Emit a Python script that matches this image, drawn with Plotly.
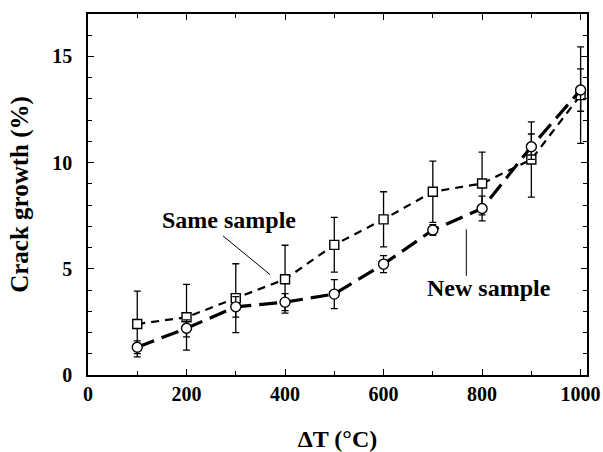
import plotly.graph_objects as go

# temperature difference (deg C)
delta_t = [100, 200, 300, 400, 500, 600, 700, 800, 900, 1000]

# crack growth (%)
same_sample = [2.4, 2.72, 3.62, 4.51, 6.13, 7.33, 8.63, 9.02, 10.15, 13.18]
same_err = [1.55, 1.55, 1.62, 1.6, 1.29, 1.3, 1.44, 1.48, 1.77, 2.27]

new_sample = [1.31, 2.2, 3.21, 3.43, 3.81, 5.22, 6.83, 7.84, 10.75, 13.42]
new_err = [0.3, 0.4, 0.48, 0.4, 0.68, 0.4, 0.25, 0.58, 0.6, 1.0]

x_ticks = [0, 200, 400, 600, 800, 1000]
y_ticks = [0, 5, 10, 15]

serif = "Liberation Serif"

fig = go.Figure()

fig.add_trace(go.Scatter(
    x=delta_t, y=same_sample, name="Same sample",
    mode="lines+markers",
    line=dict(color="black", width=2.2, dash="8px,6px"),
    marker=dict(symbol="square", size=9, color="white",
                line=dict(color="black", width=1.4)),
    error_y=dict(type="data", array=same_err, color="black",
                 thickness=1.3, width=3.5),
))

fig.add_trace(go.Scatter(
    x=delta_t, y=new_sample, name="New sample",
    mode="lines+markers",
    line=dict(color="black", width=3.2, dash="18px,8px"),
    marker=dict(symbol="circle", size=10, color="white",
                line=dict(color="black", width=1.4)),
    error_y=dict(type="data", array=new_err, color="black",
                 thickness=1.3, width=3.5),
))

# callout labels
fig.add_annotation(x=287, y=7.29, text="<b>Same sample</b>", showarrow=False,
                   font=dict(family=serif, size=24, color="black"))
fig.add_shape(type="line", x0=274, y0=6.55, x1=370, y1=4.72,
              line=dict(color="black", width=1))
fig.add_annotation(x=814, y=4.12, text="<b>New sample</b>", showarrow=False,
                   font=dict(family=serif, size=24, color="black"))
fig.add_shape(type="line", x0=768, y0=4.67, x1=768, y1=6.86,
              line=dict(color="black", width=1))

axis_style = dict(
    showline=True, linecolor="black", linewidth=1.5, mirror="ticks",
    ticks="inside", tickcolor="black", ticklen=6, tickwidth=1,
    showgrid=False, zeroline=False, automargin=False,
    ticklabeloverflow="allow",
    tickfont=dict(family=serif, size=20, color="black", weight="bold"),
)

fig.update_xaxes(
    range=[0, 1013], tickvals=x_ticks,
    minor=dict(dtick=100, tick0=0, ticks="inside", ticklen=4, tickcolor="black"),
    title=dict(text="<b>ΔT (°C)</b>", font=dict(family=serif, size=24, color="black"),
               standoff=26),
    **axis_style,
)
fig.update_yaxes(
    range=[0, 17], tickvals=y_ticks,
    minor=dict(dtick=1, tick0=0, ticks="inside", ticklen=4, tickcolor="black"),
    title=dict(text="<b>Crack growth (%)</b>", font=dict(family=serif, size=25, color="black"),
               standoff=17),
    ticklabelstandoff=10,
    **axis_style,
)

fig.update_layout(
    width=603, height=452,
    margin=dict(l=88, r=16, t=14, b=77),
    plot_bgcolor="white", paper_bgcolor="white",
    showlegend=False,
)

# drop the default body margin so the figure fills the window exactly
fig.write_html("out.html", config={"displayModeBar": False},
               post_script="document.body.style.margin = '0';")
